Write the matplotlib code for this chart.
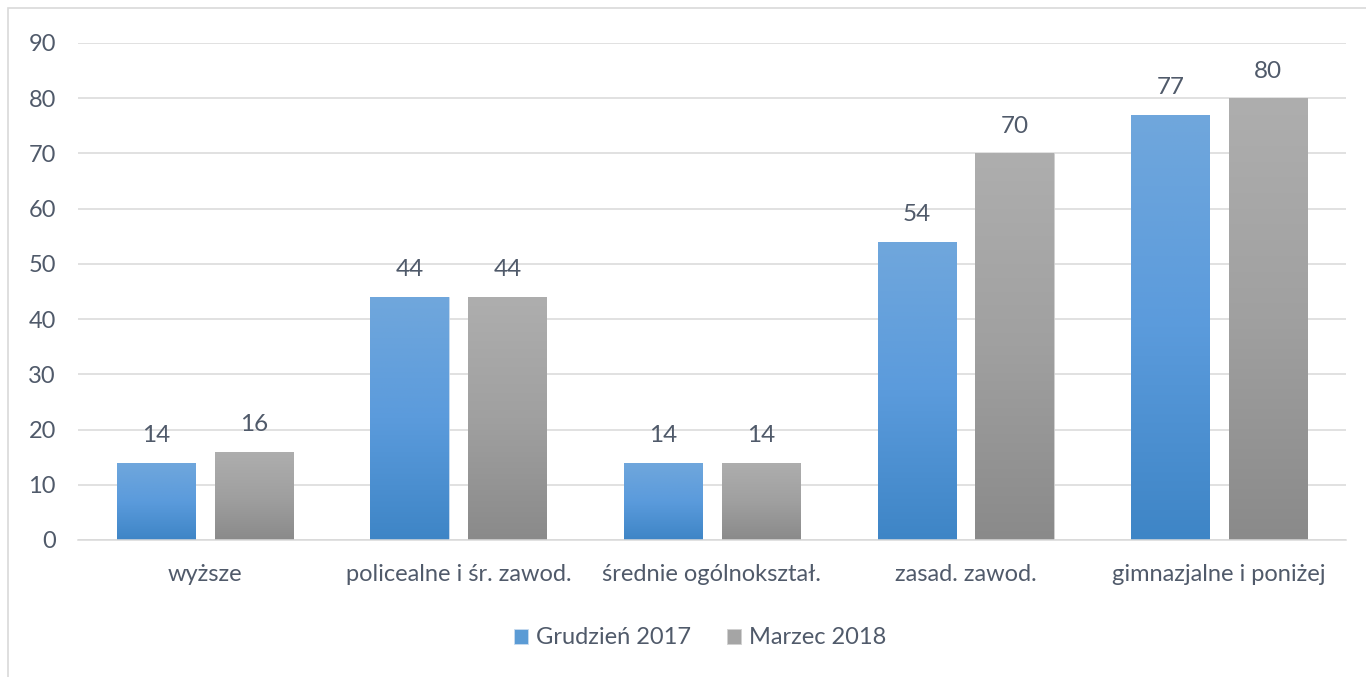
import numpy as np
import matplotlib
matplotlib.use('Agg')
from matplotlib import pyplot as plt
from matplotlib.patches import Rectangle
from matplotlib.colors import LinearSegmentedColormap

categories = ['wyższe', 'policealne i śr. zawod.', 'średnie ogólnokształ.',
              'zasad. zawod.', 'gimnazjalne i poniżej']
grudzien_2017 = [14, 44, 14, 54, 77]
marzec_2018 = [16, 44, 14, 70, 80]
series_names = ['Grudzień 2017', 'Marzec 2018']
y_ticks = [0, 10, 20, 30, 40, 50, 60, 70, 80, 90]

plt.rcParams['font.family'] = ['Lato', 'DejaVu Sans']
text_color = '#505a6a'

fig = plt.figure(figsize=(13.66, 6.77), dpi=100)
ax = fig.add_axes([78 / 1366, 1 - 540 / 677, 1268 / 1366, 497 / 677])

x = np.arange(len(categories))
width = 0.308
off = 0.193

blue_cmap = LinearSegmentedColormap.from_list('b', ['#3e85c6', '#5b9bdc', '#70a7dc'])
grey_cmap = LinearSegmentedColormap.from_list('g', ['#8a8a8a', '#a0a0a0', '#aeaeae'])

bars1 = ax.bar(x - off, grudzien_2017, width, color='#5b9bd5', label=series_names[0],
               edgecolor='#c9dcf0', linewidth=0.6, zorder=2)
bars2 = ax.bar(x + off, marzec_2018, width, color='#a5a5a5', label=series_names[1],
               edgecolor='#d0d0d0', linewidth=0.6, zorder=2)

# vertical gradient fill clipped to each bar
grad = np.linspace(0, 1, 256).reshape(-1, 1)
for bars, cmap in ((bars1, blue_cmap), (bars2, grey_cmap)):
    for b in bars:
        x0, w, h = b.get_x(), b.get_width(), b.get_height()
        im = ax.imshow(grad, cmap=cmap, aspect='auto', origin='lower',
                       extent=[x0, x0 + w, 0, h], zorder=2.5)
        im.set_clip_path(b)

for bars, vals in ((bars1, grudzien_2017), (bars2, marzec_2018)):
    for b, v in zip(bars, vals):
        ax.annotate(str(v), (b.get_x() + b.get_width() / 2, v), xytext=(0, 12),
                    textcoords='offset points', ha='center', va='bottom',
                    fontsize=17.5, color=text_color, zorder=3)

ax.set_xlim(-0.5, len(categories) - 0.5)
ax.set_ylim(0, 90)
ax.set_yticks(y_ticks)
ax.set_xticks(x)
ax.set_xticklabels(categories)
ax.yaxis.grid(True, color='#d9d9d9', linewidth=1.1, zorder=0)
ax.set_axisbelow(True)
for s in ['top', 'right', 'left']:
    ax.spines[s].set_visible(False)
ax.spines['bottom'].set_color('#d9d9d9')
ax.spines['bottom'].set_linewidth(1.1)
ax.tick_params(axis='both', length=0, labelsize=17, colors=text_color)
ax.tick_params(axis='x', pad=17)
ax.tick_params(axis='y', pad=16)

fig.legend(handles=[bars1, bars2], labels=series_names, loc='center',
           bbox_to_anchor=(700 / 1366, 1 - 638 / 677), ncol=2, frameon=False,
           fontsize=17, handlelength=0.6, handleheight=0.6, handletextpad=0.35,
           columnspacing=1.5, labelcolor=text_color)

fig.patches.append(Rectangle((8 / 1366, -0.01), 1.02, 1 - 8 / 677 + 0.01,
                             transform=fig.transFigure, fill=False,
                             edgecolor='#d9d9d9', linewidth=1.2))

fig.savefig('out.png', dpi=100)
